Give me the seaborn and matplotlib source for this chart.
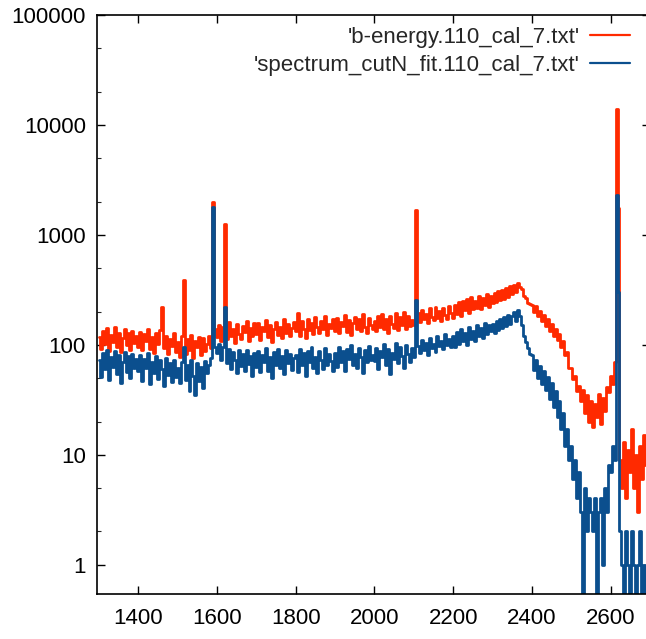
import numpy as np
import pandas as pd
import matplotlib
matplotlib.use("Agg")
import matplotlib.pyplot as plt
import seaborn as sns
from matplotlib.ticker import FixedLocator, FuncFormatter, NullFormatter

# ---- data (5 keV bins starting at 1300 keV) ----
energy_start = 1300
energy_step = 5

red_counts = [
    # 1300-1395
    118, 92, 134, 101, 141, 88, 123, 107, 145, 95, 129, 86, 116, 138, 99, 127, 90, 132, 104, 121,
    # 1400-1495
    96, 131, 89, 124, 108, 140, 92, 118, 85, 127, 102, 135, 220, 94, 121, 83, 113, 97, 128, 86,
    # 1500-1595
    105, 78, 119, 390, 82, 112, 90, 123, 76, 108, 95, 117, 80, 114, 88, 101, 121, 93, 1995, 140,
    # 1600-1695
    118, 152, 108, 146, 1260, 112, 161, 121, 139, 104, 155, 126, 113, 148, 131, 165, 109, 142, 119, 157,
    # 1700-1795
    125, 158, 111, 146, 134, 168, 117, 150, 106, 139, 162, 122, 145, 114, 171, 128, 153, 119, 141, 160,
    # 1800-1895
    132, 195, 121, 163, 140, 115, 172, 136, 158, 124, 177, 145, 128, 166, 138, 181, 123, 154, 143, 170,
    # 1900-1995
    134, 175, 128, 162, 149, 188, 131, 168, 122, 157, 179, 140, 171, 133, 192, 146, 127, 176, 152, 138,
    # 2000-2095
    163, 132, 181, 145, 190, 139, 171, 128, 184, 156, 142, 195, 137, 177, 151, 199, 140, 182, 147, 168,
    # 2100-2195
    150, 1690, 196, 162, 208, 171, 189, 158, 215, 180, 167, 222, 176, 201, 163, 218, 185, 172, 227, 193,
    # 2200-2295
    176, 232, 190, 247, 183, 252, 205, 262, 194, 270, 210, 249, 218, 280, 212, 268, 230, 292, 222, 275,
    # 2300-2395
    238, 298, 246, 307, 256, 318, 262, 330, 272, 345, 287, 352, 300, 362, 337, 322, 276, 266, 240, 234,
    # 2400-2495
    232, 198, 225, 182, 204, 166, 188, 148, 170, 132, 154, 121, 138, 110, 126, 96, 108, 80, 86, 62,
    # 2500-2595
    62, 49, 52, 38, 42, 31, 39, 24, 35, 20, 31, 18, 29, 22, 36, 19, 33, 25, 41, 37,
    # 2600-2695
    52, 44, 70, 14000, 1750, 9, 5, 13, 4, 11, 7, 17, 5, 10, 3, 12, 6, 15, 8, 11,
]

blue_counts = [
    # 1300-1395
    72, 51, 84, 60, 90, 48, 77, 63, 88, 54, 80, 45, 69, 86, 57, 79, 50, 83, 61, 74,
    # 1400-1495
    58, 81, 47, 74, 62, 85, 44, 70, 55, 79, 49, 72, 60, 42, 76, 53, 68, 46, 73, 51,
    # 1500-1595
    62, 45, 70, 95, 48, 66, 38, 73, 52, 35, 68, 47, 63, 40, 71, 55, 66, 75, 1800, 96,
    # 1600-1695
    84, 102, 72, 95, 220, 68, 91, 60, 86, 73, 55, 89, 64, 82, 58, 90, 67, 79, 52, 85,
    # 1700-1795
    63, 88, 56, 81, 70, 94, 58, 77, 50, 86, 66, 92, 61, 79, 54, 89, 68, 83, 59, 76,
    # 1800-1895
    80, 57, 91, 66, 84, 52, 88, 70, 95, 61, 78, 55, 87, 73, 60, 93, 65, 82, 71, 58,
    # 1900-1995
    85, 63, 96, 70, 88, 58, 92, 74, 99, 66, 83, 61, 94, 77, 55, 90, 69, 98, 72, 81,
    # 2000-2095
    71, 93, 60, 88, 77, 101, 65, 92, 54, 85, 74, 104, 68, 96, 79, 62, 99, 82, 70, 94,
    # 2100-2195
    78, 255, 98, 84, 110, 89, 104, 80, 115, 93, 102, 86, 120, 97, 108, 91, 124, 100, 112, 96,
    # 2200-2295
    120, 96, 131, 102, 138, 108, 127, 99, 144, 113, 134, 108, 151, 120, 141, 115, 158, 126, 150, 133,
    # 2300-2395
    154, 127, 163, 136, 171, 142, 178, 149, 187, 156, 182, 198, 165, 205, 184, 152, 120, 106, 93, 83,
    # 2400-2495
    80, 59, 73, 50, 64, 44, 58, 39, 51, 32, 45, 27, 38, 22, 31, 17, 24, 12, 17, 9,
    # 2500-2595
    12, 6, 9, 4, 7, 3, 0, 5, 2, 4, 3, 2, 4, 0, 3, 4, 1, 5, 3, 8,
    # 2600-2695
    7, 12, 9, 2300, 300, 2, 1, 0, 2, 1, 0, 2, 1, 0, 1, 2, 0, 1, 0, 2,
]

series_labels = ["'b-energy.110_cal_7.txt'", "'spectrum_cutN_fit.110_cal_7.txt'"]
series_colors = ["#ff2a00", "#0b4f8e"]
x_ticks = [1400, 1600, 1800, 2000, 2200, 2400, 2600]
y_ticks = [1, 10, 100, 1000, 10000, 100000]

# ---- build table ----
n = len(red_counts)
energy = energy_start + energy_step * np.arange(n)
df = pd.DataFrame({
    "energy": np.concatenate([energy, energy]),
    "counts": red_counts + blue_counts,
    "file": [series_labels[0]] * n + [series_labels[1]] * len(blue_counts),
})

sns.set_style("ticks")
plt.rcParams["font.family"] = ["Liberation Sans", "DejaVu Sans"]

W, H = 646, 639
fig = plt.figure(figsize=(W / 100, H / 100), dpi=100)
left, right, top, bottom = 97, 650, 15, 594
ax = fig.add_axes([left / W, (H - bottom) / H, (right - left) / W, (bottom - top) / H])

sns.lineplot(data=df, x="energy", y="counts", hue="file", hue_order=series_labels,
             palette=series_colors, estimator=None, drawstyle="steps-mid",
             linewidth=2.0, ax=ax, legend=True)

ax.set_yscale("log")
ax.set_xlim(1295, 2700)
ax.set_ylim(0.54, 1.0e5)
ax.set_xlabel("")
ax.set_ylabel("")

ax.xaxis.set_major_locator(FixedLocator(x_ticks))
ax.yaxis.set_major_locator(FixedLocator(y_ticks))
ax.yaxis.set_major_formatter(FuncFormatter(lambda v, p: f"{v:g}"))
minor = [m * 10 ** k for k in range(-1, 5) for m in (2, 5)]
ax.yaxis.set_minor_locator(FixedLocator(minor))
ax.yaxis.set_minor_formatter(NullFormatter())
ax.xaxis.set_minor_locator(FixedLocator([]))

ax.tick_params(axis="both", which="major", direction="in", length=6, width=1,
               top=True, right=True, labelsize=16, colors="black")
ax.tick_params(axis="x", which="major", pad=10)
ax.tick_params(axis="y", which="major", pad=8)
ax.tick_params(axis="y", which="minor", direction="in", length=3, width=0.8,
               left=True, right=True)
for s in ax.spines.values():
    s.set_color("black")
    s.set_linewidth(1.2)
    s.set_visible(True)

handles, lbls = ax.get_legend_handles_labels()
for h in handles:
    h.set_linewidth(1.6)
ax.legend(handles, lbls, loc="upper right",
          bbox_to_anchor=(1 - 20 / (right - left), 1 - 12 / (bottom - top)),
          frameon=False, markerfirst=False, fontsize=16, borderpad=0,
          borderaxespad=0, handlelength=1.8, handletextpad=0.45,
          labelspacing=0.32)

fig.savefig("out.png", dpi=100)
